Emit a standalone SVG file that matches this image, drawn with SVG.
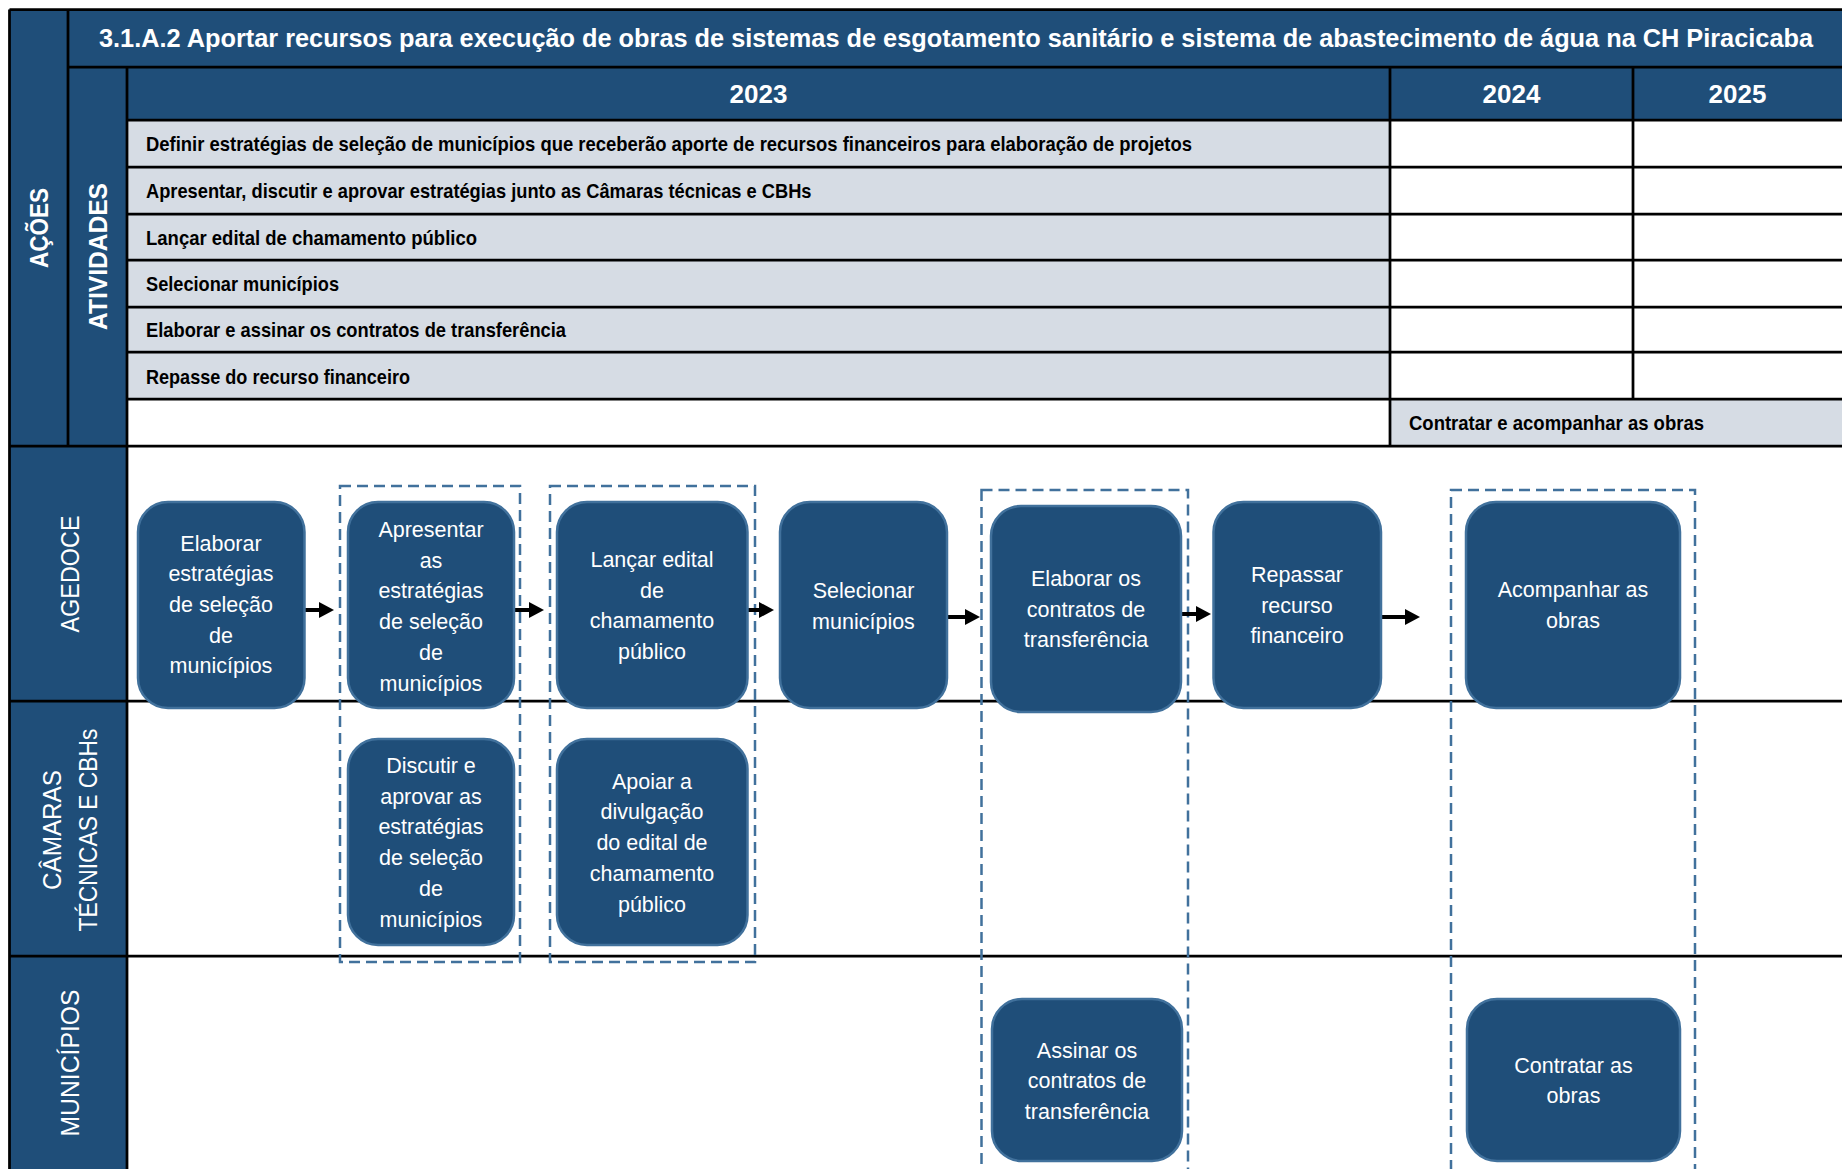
<svg xmlns="http://www.w3.org/2000/svg" width="1842" height="1169" viewBox="0 0 1842 1169">
<defs>
<style>
.blue{fill:#1F4E79}
.light{fill:#D6DCE4}
.grid{stroke:#000;stroke-width:2.75;fill:none}
.t{font-family:"Liberation Sans",Arial,sans-serif}
.hd{font-weight:bold;fill:#fff}
.act{font-weight:bold;font-size:20.5px;fill:#000}
.lane{font-size:25px;fill:#fff;text-anchor:middle}
.node rect{fill:#1F4E79;stroke:#41719C;stroke-width:2.5}
.node text{font-family:"Liberation Sans",Arial,sans-serif;font-size:21.5px;fill:#fff;text-anchor:middle}
.grp{fill:none;stroke:#41719C;stroke-width:2.5;stroke-dasharray:11 6}
.conn{stroke:#000;stroke-width:4;fill:none;marker-end:url(#ah)}
</style>
<marker id="ah" markerUnits="userSpaceOnUse" markerWidth="16" markerHeight="16" refX="1" refY="8" orient="auto">
<path d="M0,0 L15,8 L0,16 Z" fill="#000"/>
</marker>
</defs>
<rect width="1842" height="1169" fill="#fff"/>

<g id="table">
<rect class="blue" x="9.5" y="9.5" width="1832.5" height="57.5"/>
<rect class="blue" x="9.5" y="9.5" width="58.5" height="436.5"/>
<rect class="blue" x="68" y="67" width="59" height="379"/>
<rect class="blue" x="127" y="67" width="1715" height="53"/>
<rect class="light" x="127" y="120" width="1263" height="279"/>
<rect class="light" x="1390" y="399" width="452" height="47"/>
<text class="t hd" x="99" y="47" font-size="25" textLength="1714" lengthAdjust="spacingAndGlyphs">3.1.A.2 Aportar recursos para execução de obras de sistemas de esgotamento sanitário e sistema de abastecimento de água na CH Piracicaba</text>
<text class="t hd" x="758.5" y="103" font-size="26" text-anchor="middle">2023</text>
<text class="t hd" x="1511.5" y="103" font-size="26" text-anchor="middle">2024</text>
<text class="t hd" x="1737.5" y="103" font-size="26" text-anchor="middle">2025</text>
<text class="t hd" transform="translate(48,228) rotate(-90)" font-size="26" text-anchor="middle" textLength="80" lengthAdjust="spacingAndGlyphs">AÇÕES</text>
<text class="t hd" transform="translate(106.5,256.5) rotate(-90)" font-size="26" text-anchor="middle" textLength="147" lengthAdjust="spacingAndGlyphs">ATIVIDADES</text>
<text class="t act" x="146" y="151" textLength="1046" lengthAdjust="spacingAndGlyphs">Definir estratégias de seleção de municípios que receberão aporte de recursos financeiros para elaboração de projetos</text>
<text class="t act" x="146" y="198" textLength="665.5" lengthAdjust="spacingAndGlyphs">Apresentar, discutir e aprovar estratégias junto as Câmaras técnicas e CBHs</text>
<text class="t act" x="146" y="244.5" textLength="331" lengthAdjust="spacingAndGlyphs">Lançar edital de chamamento público</text>
<text class="t act" x="146" y="291" textLength="193" lengthAdjust="spacingAndGlyphs">Selecionar municípios</text>
<text class="t act" x="146" y="337" textLength="420" lengthAdjust="spacingAndGlyphs">Elaborar e assinar os contratos de transferência</text>
<text class="t act" x="146" y="383.5" textLength="264" lengthAdjust="spacingAndGlyphs">Repasse do recurso financeiro</text>
<text class="t act" x="1409" y="430" textLength="295" lengthAdjust="spacingAndGlyphs">Contratar e acompanhar as obras</text>
</g>

<g id="lanes">
<rect class="blue" x="9.5" y="446" width="117.5" height="723"/>
<text class="t lane" transform="translate(79,574) rotate(-90)" textLength="117" lengthAdjust="spacingAndGlyphs">AGEDOCE</text>
<text class="t lane" transform="translate(61,830) rotate(-90)" textLength="120" lengthAdjust="spacingAndGlyphs">CÂMARAS</text>
<text class="t lane" transform="translate(97,830) rotate(-90)" textLength="203" lengthAdjust="spacingAndGlyphs">TÉCNICAS E CBHs</text>
<text class="t lane" transform="translate(79,1063) rotate(-90)" textLength="147" lengthAdjust="spacingAndGlyphs">MUNICÍPIOS</text>
</g>

<g id="gridlines">
<path class="grid" d="M9.5,9.5 V1169 M9.5,9.5 H1842 M68,9.5 V446 M127,67 V1169 M68,67 H1842 M127,120 H1842 M127,167 H1842 M127,214 H1842 M127,260 H1842 M127,307 H1842 M127,352 H1842 M127,399 H1842 M9.5,446 H1842 M9.5,701 H1842 M9.5,956 H1842 M1390,67 V446 M1633,67 V399"/>
</g>

<g id="groups">
<rect class="grp" x="340" y="486" width="180" height="476"/>
<rect class="grp" x="550" y="486" width="205" height="476"/>
<rect class="grp" x="981.5" y="490" width="206.5" height="700"/>
<rect class="grp" x="1451" y="490" width="244" height="700"/>
</g>

<g id="connectors">
<line class="conn" x1="305" y1="610" x2="320" y2="610"/>
<line class="conn" x1="515" y1="610" x2="530" y2="610"/>
<line class="conn" x1="748" y1="610" x2="760" y2="610"/>
<line class="conn" x1="948" y1="617" x2="966" y2="617"/>
<line class="conn" x1="1182" y1="614" x2="1197" y2="614"/>
<line class="conn" x1="1382" y1="617" x2="1406" y2="617"/>
</g>

<g id="n1" class="node"><rect x="138" y="502" width="166.5" height="206" rx="30"/>
<text x="221" y="550.6"><tspan x="221">Elaborar</tspan><tspan x="221" dy="30.7">estratégias</tspan><tspan x="221" dy="30.7">de seleção</tspan><tspan x="221" dy="30.7">de</tspan><tspan x="221" dy="30.7">municípios</tspan></text></g>
<g id="n2" class="node"><rect x="348" y="502" width="166" height="206" rx="30"/>
<text x="431" y="537"><tspan x="431">Apresentar</tspan><tspan x="431" dy="30.7">as</tspan><tspan x="431" dy="30.7">estratégias</tspan><tspan x="431" dy="30.7">de seleção</tspan><tspan x="431" dy="30.7">de</tspan><tspan x="431" dy="30.7">municípios</tspan></text></g>
<g id="n3" class="node"><rect x="557" y="502" width="190.5" height="206" rx="30"/>
<text x="652" y="567"><tspan x="652">Lançar edital</tspan><tspan x="652" dy="30.7">de</tspan><tspan x="652" dy="30.7">chamamento</tspan><tspan x="652" dy="30.7">público</tspan></text></g>
<g id="n4" class="node"><rect x="780" y="502" width="167" height="206" rx="30"/>
<text x="863.5" y="598"><tspan x="863.5">Selecionar</tspan><tspan x="863.5" dy="30.7">municípios</tspan></text></g>
<g id="n5" class="node"><rect x="991" y="506" width="190" height="206" rx="30"/>
<text x="1086" y="586"><tspan x="1086">Elaborar os</tspan><tspan x="1086" dy="30.7">contratos de</tspan><tspan x="1086" dy="30.7">transferência</tspan></text></g>
<g id="n6" class="node"><rect x="1213.5" y="502" width="167.5" height="206" rx="30"/>
<text x="1297" y="582"><tspan x="1297">Repassar</tspan><tspan x="1297" dy="30.7">recurso</tspan><tspan x="1297" dy="30.7">financeiro</tspan></text></g>
<g id="n7" class="node"><rect x="1466" y="502" width="214" height="206" rx="30"/>
<text x="1573" y="597"><tspan x="1573">Acompanhar as</tspan><tspan x="1573" dy="30.7">obras</tspan></text></g>
<g id="n8" class="node"><rect x="348" y="739" width="166" height="206" rx="30"/>
<text x="431" y="773"><tspan x="431">Discutir e</tspan><tspan x="431" dy="30.7">aprovar as</tspan><tspan x="431" dy="30.7">estratégias</tspan><tspan x="431" dy="30.7">de seleção</tspan><tspan x="431" dy="30.7">de</tspan><tspan x="431" dy="30.7">municípios</tspan></text></g>
<g id="n9" class="node"><rect x="557" y="739" width="190.5" height="206" rx="30"/>
<text x="652" y="788.7"><tspan x="652">Apoiar a</tspan><tspan x="652" dy="30.7">divulgação</tspan><tspan x="652" dy="30.7">do edital de</tspan><tspan x="652" dy="30.7">chamamento</tspan><tspan x="652" dy="30.7">público</tspan></text></g>
<g id="n10" class="node"><rect x="992" y="999" width="190" height="162" rx="30"/>
<text x="1087" y="1057.7"><tspan x="1087">Assinar os</tspan><tspan x="1087" dy="30.7">contratos de</tspan><tspan x="1087" dy="30.7">transferência</tspan></text></g>
<g id="n11" class="node"><rect x="1467" y="999" width="213" height="162" rx="30"/>
<text x="1573.5" y="1072.7"><tspan x="1573.5">Contratar as</tspan><tspan x="1573.5" dy="30.7">obras</tspan></text></g>
</svg>
